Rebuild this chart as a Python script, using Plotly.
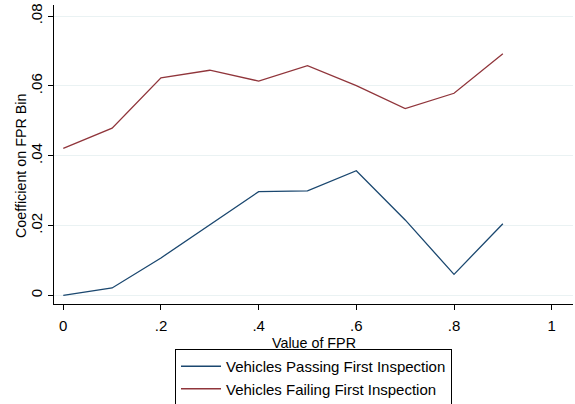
import plotly.graph_objects as go

fpr = [0, 0.1, 0.2, 0.3, 0.4, 0.5, 0.6, 0.7, 0.8, 0.9]
passing = [0.0, 0.0021, 0.0107, 0.0203, 0.0297, 0.0299, 0.0357, 0.0216, 0.0060, 0.0205]
failing = [0.0421, 0.0479, 0.0623, 0.0645, 0.0614, 0.0658, 0.0601, 0.0535, 0.0579, 0.0692]
x_ticks = [0, 0.2, 0.4, 0.6, 0.8, 1]
x_labels = ["0", ".2", ".4", ".6", ".8", "1"]
y_ticks = [0, 0.02, 0.04, 0.06, 0.08]
y_labels = ["0", ".02", ".04", ".06", ".08"]
x_title = "Value of FPR"
y_title = "Coefficient on FPR Bin"

fig = go.Figure()
fig.add_trace(go.Scatter(x=fpr, y=passing, mode="lines", name="Vehicles Passing First Inspection",
                         line=dict(color="#1a476f", width=1.3)))
fig.add_trace(go.Scatter(x=fpr, y=failing, mode="lines", name="Vehicles Failing First Inspection",
                         line=dict(color="#90353b", width=1.3)))

family = "Liberation Sans, Arial, sans-serif"
font = dict(family=family, size=15, color="black")
tfont = dict(family=family, size=14.3, color="black")
fig.update_layout(
    width=575, height=404,
    margin=dict(l=54, r=2, t=5, b=100, autoexpand=False),
    paper_bgcolor="white", plot_bgcolor="white",
    font=font,
    showlegend=True,
    legend=dict(x=0.5, xanchor="center", y=-0.1505, yanchor="top",
                bordercolor="black", borderwidth=1, font=font,
                tracegroupgap=0, itemwidth=40, traceorder="normal"),
    xaxis=dict(range=[-0.019, 1.0436], tickvals=x_ticks, ticktext=x_labels, automargin=False,
               showgrid=False, zeroline=False, showline=True, linecolor="black", linewidth=1,
               ticks="outside", ticklen=5, tickcolor="black", ticklabelstandoff=3,
               tickfont=font),
    yaxis=dict(range=[-0.0025, 0.0832], tickvals=y_ticks, ticktext=y_labels, automargin=False,
               showgrid=True, gridcolor="#eaf2f3", gridwidth=1, zeroline=False,
               showline=True, linecolor="black", linewidth=1,
               ticks="outside", ticklen=5, tickcolor="black", tickangle=-90,
               tickfont=font),
    annotations=[
        dict(text=x_title, xref="paper", yref="paper", x=0.5, y=-0.130,
             xanchor="center", yanchor="middle", showarrow=False, font=tfont),
        dict(text=y_title, xref="paper", yref="paper", x=-0.0626, y=0.46,
             xanchor="center", yanchor="middle", textangle=-90, showarrow=False, font=tfont),
    ],
)
fig.write_html("out.html", config={"displayModeBar": False},
               post_script="document.body.style.margin='0';document.body.style.overflow='hidden';")
